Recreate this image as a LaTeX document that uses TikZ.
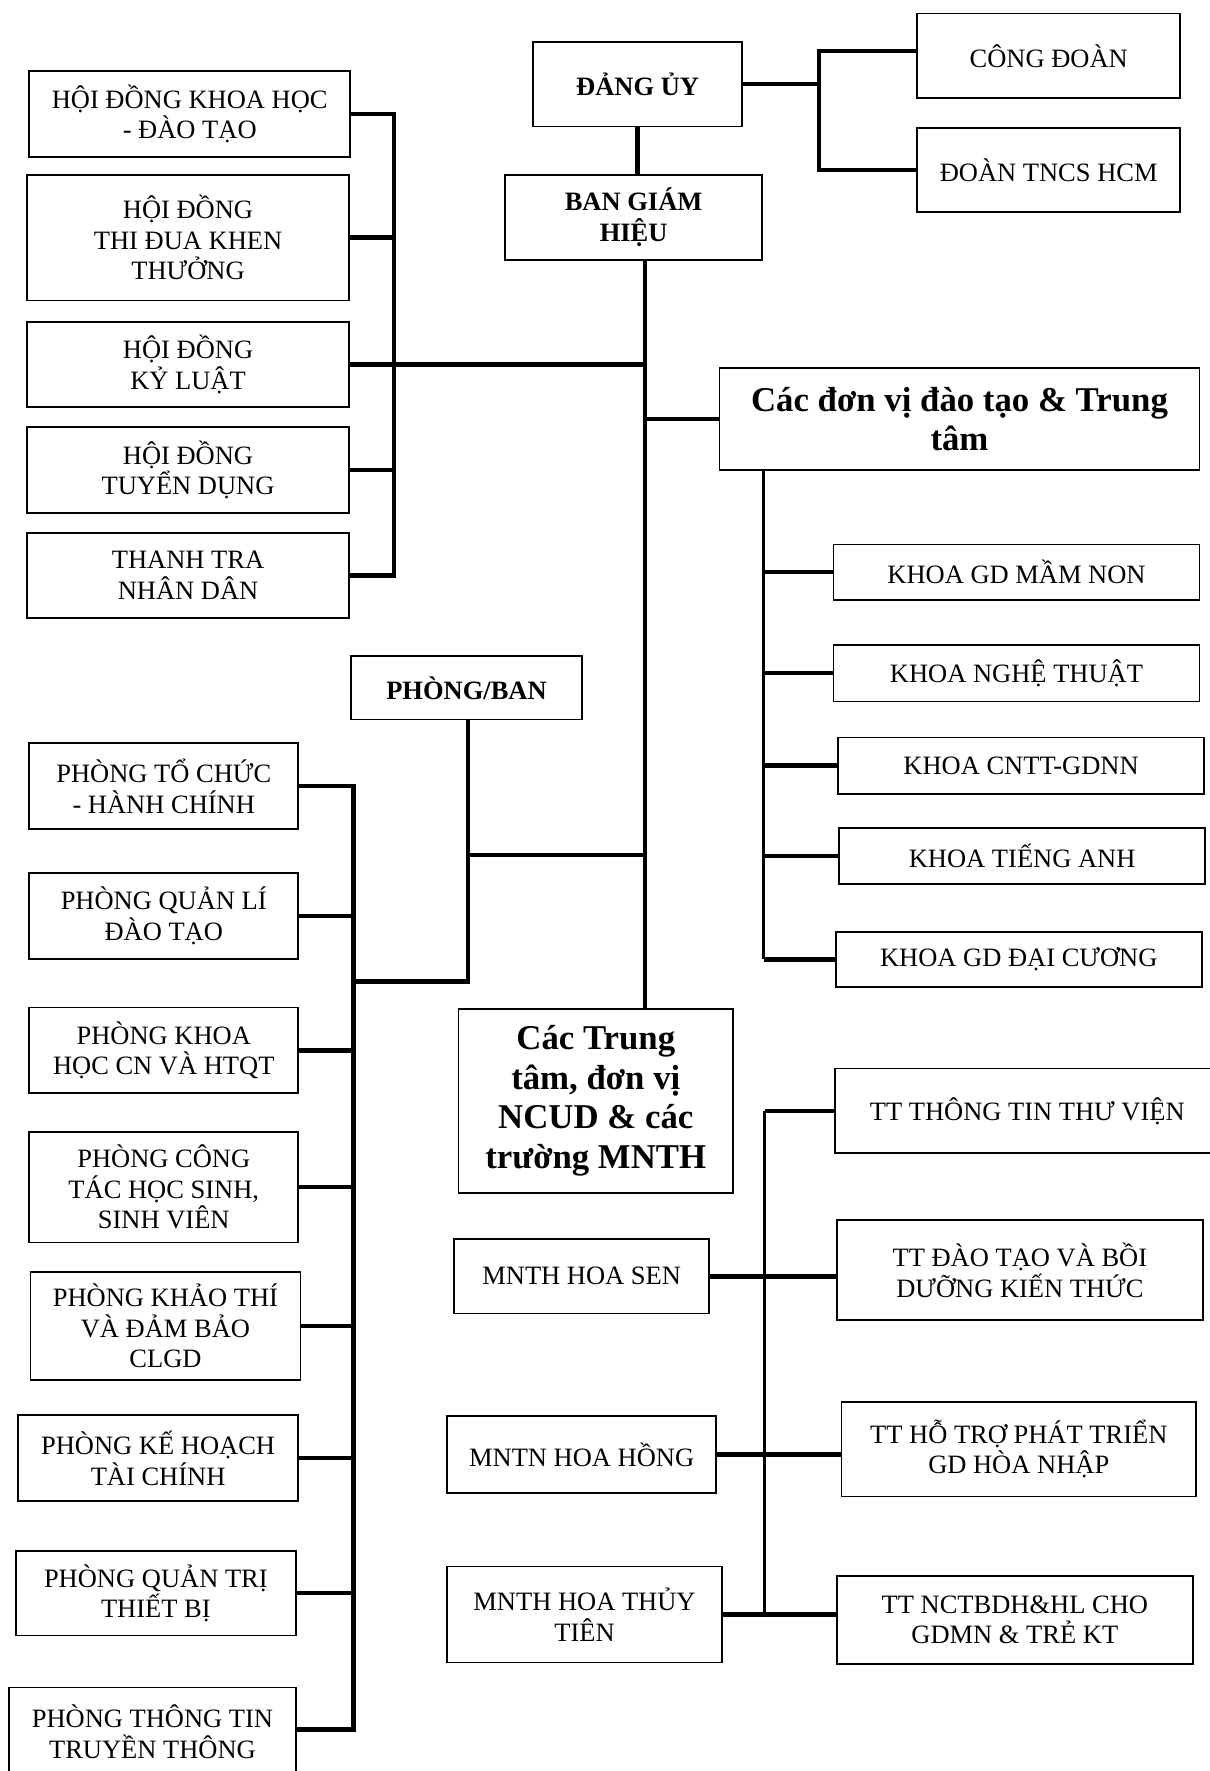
\documentclass[tikz,border=0pt]{standalone}
\usepackage{fontspec}
\setmainfont{Liberation Serif}
\newcommand\bx[7]{\node[#1, minimum width={(#5-#3)*0.5649pt}, minimum height={(#6-#4)*0.5649pt}] (#2) at ({(#3+#5)/2},{(#4+#6)/2}) {#7};}
\begin{document}
\begin{tikzpicture}[x=0.5649pt,y=-0.5649pt,
  box/.style={draw, line width=0.9pt, inner sep=0pt, align=center, font=\fontsize{13.25}{15.3}\selectfont},
  bbox/.style={box, font=\fontsize{13.25}{15.3}\selectfont\bfseries},
  big/.style={box, font=\fontsize{17.4}{19.9}\selectfont\bfseries},
  conn/.style={line width=2.3pt},
  spine/.style={line width=1.6pt}]
\useasboundingbox (0,0) rectangle (1071,1568);
% ---- top
\bx{bbox}{du}{472}{37}{657}{112}{ĐẢNG ỦY}
\bx{bbox}{bgh}{447}{155}{675}{230}{BAN GIÁM\\HIỆU}
\bx{box}{cd}{812}{12}{1045}{87}{CÔNG ĐOÀN}
\bx{box}{dt}{812}{113}{1045}{188}{ĐOÀN TNCS HCM}
% ---- councils
\bx{box}{h1}{26}{63}{310}{139}{HỘI ĐỒNG KHOA HỌC\\- ĐÀO TẠO}
\bx{box}{h2}{24}{155}{309}{266}{HỘI ĐỒNG\\THI ĐUA KHEN\\THƯỞNG}
\bx{box}{h3}{24}{285}{309}{360}{HỘI ĐỒNG\\KỶ LUẬT}
\bx{box}{h4}{24}{378}{309}{454}{HỘI ĐỒNG\\TUYỂN DỤNG}
\bx{box}{h5}{24}{472}{309}{547}{THANH TRA\\NHÂN DÂN}
% ---- training units
\bx{big}{dv}{637}{326}{1062}{416}{Các đơn vị đào tạo \& Trung\\tâm}
\bx{box}{k1}{738}{482}{1062}{531}{KHOA GD MẦM NON}
\bx{box}{k2}{738}{571}{1062}{621}{KHOA NGHỆ THUẬT}
\bx{box}{k3}{742}{653}{1066}{703}{KHOA CNTT-GDNN}
\bx{box}{k4}{743}{733}{1067}{783}{KHOA TIẾNG ANH}
\bx{box}{k5}{740}{825}{1064}{874}{KHOA GD ĐẠI CƯƠNG}
% ---- offices
\bx{bbox}{pb}{311}{581}{515}{637}{PHÒNG/BAN}
\bx{box}{p1}{26}{658}{264}{734}{PHÒNG TỔ CHỨC\\- HÀNH CHÍNH}
\bx{box}{p2}{26}{773}{264}{849}{PHÒNG QUẢN LÍ\\ĐÀO TẠO}
\bx{box}{p3}{26}{892}{264}{968}{PHÒNG KHOA\\HỌC CN VÀ HTQT}
\bx{box}{p4}{26}{1002}{264}{1100}{PHÒNG CÔNG\\TÁC HỌC SINH,\\SINH VIÊN}
\bx{box}{p5}{27}{1126}{266}{1222}{PHÒNG KHẢO THÍ\\VÀ ĐẢM BẢO\\CLGD}
\bx{box}{p6}{16}{1253}{264}{1329}{PHÒNG KẾ HOẠCH\\TÀI CHÍNH}
\bx{box}{p7}{14}{1373}{262}{1448}{PHÒNG QUẢN TRỊ\\THIẾT BỊ}
\bx{box}{p8}{8}{1494}{262}{1572}{PHÒNG THÔNG TIN\\TRUYỀN THÔNG}
% ---- centres
\bx{big}{ct}{406}{893}{649}{1056}{Các Trung\\tâm, đơn vị\\NCUD \& các\\trường MNTH}
\bx{box}{t1}{739}{946}{1080}{1021}{TT THÔNG TIN THƯ VIỆN}
\bx{box}{t2}{741}{1080}{1065}{1169}{TT ĐÀO TẠO VÀ BỒI\\DƯỠNG KIẾN THỨC}
\bx{box}{t3}{745}{1241}{1059}{1325}{TT HỖ TRỢ PHÁT TRIỂN\\GD HÒA NHẬP}
\bx{box}{t4}{741}{1395}{1056}{1473}{TT NCTBDH\&HL CHO\\GDMN \& TRẺ KT}
\bx{box}{m1}{402}{1097}{628}{1163}{MNTH HOA SEN}
\bx{box}{m2}{396}{1254}{634}{1322}{MNTN HOA HỒNG}
\bx{box}{m3}{396}{1387}{639}{1472}{MNTH HOA THỦY\\TIÊN}
% ---- bus coordinates
\coordinate (bT) at (725,0);
\coordinate (bL) at (349,0);
\coordinate (sp) at (571,0);
\coordinate (kb) at (676,0);
\coordinate (pbus) at (313,0);
\coordinate (pj) at (414.5,869);
\coordinate (pm) at (414.5,757);
\coordinate (tb) at (677,0);
\coordinate (cdj) at (725,45);
% ---- connectors
\draw[conn] (du.south) -- (du.south |- bgh.north);
\draw[conn] (du.east) -- (du.east -| bT);
\draw[conn] (cdj -| cd.west) -- (cdj) -- (dt.west -| bT) -- (dt.west);
\draw[conn] (h1.east) -- (h1.east -| bL) -- (h5.east -| bL) -- (h5.east);
\foreach \n in {h2,h3,h4} \draw[conn] (\n.east) -- (\n.east -| bL);
\draw[conn] (h3.east -| bL) -- (h3.east -| sp);
\draw[spine] (bgh.south -| sp) -- (ct.north -| sp);
\draw[conn] (dv.west -| sp) -- (dv.west);
\draw[spine] (dv.south -| kb) -- (k5.west -| kb);
\foreach \n in {k1,k2,k3,k4,k5} \draw[conn] (\n.west -| kb) -- (\n.west);
\draw[conn] (pb.south -| pj) -- (pj) -- (pj -| pbus);
\draw[conn] (pm) -- (pm -| sp);
\coordinate (p8c) at (262,1531);
\draw[conn] (p1.east) -- (p1.east -| pbus) -- (p8c -| pbus) -- (p8c);
\foreach \n in {p2,p3,p4,p5,p6,p7} \draw[conn] (\n.east) -- (\n.east -| pbus);
\draw[spine] (t1.west -| tb) -- (m3.east -| tb);
\draw[conn] (t1.west -| tb) -- (t1.west);
\draw[conn] (m1.east) -- (m1.east -| t2.west);
\draw[conn] (m2.east) -- (m2.east -| t3.west);
\draw[conn] (m3.east) -- (m3.east -| t4.west);
\end{tikzpicture}
\end{document}
